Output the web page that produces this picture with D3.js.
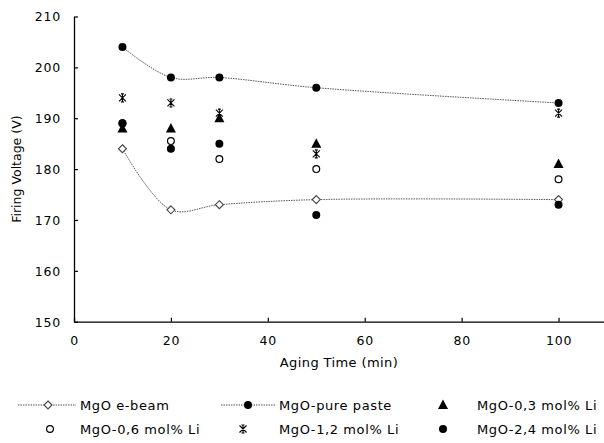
<!DOCTYPE html>
<html>
<head>
<meta charset="utf-8">
<script src="https://cdn.jsdelivr.net/npm/d3@7"></script>
<style>
  body { margin: 0; background: #fff; }
  text { font-family: "DejaVu Sans", sans-serif; fill: #000; }
</style>
</head>
<body>
<svg id="chart" width="604" height="443"></svg>
<script>
// aging time (min)
let agingTimes = [10, 20, 30, 50, 100];

// firing voltage (V) per sample
let eBeam     = [184, 172, 173, 174, 174];
let purePaste = [204, 198, 198, 196, 193];
let li03      = [188, 188, 190, 185, 181];
let li06      = [189, 185.5, 182, 180, 178];
let li12      = [194, 193, 191, 183, 191];
let li24      = [189, 184, 185, 171, 173];

let xTicks = [0, 20, 40, 60, 80, 100];
let yTicks = [150, 160, 170, 180, 190, 200, 210];

let seriesNames = ["MgO e-beam", "MgO-pure paste", "MgO-0,3 mol% Li",
                   "MgO-0,6 mol% Li", "MgO-1,2 mol% Li", "MgO-2,4 mol% Li"];

let series = [
    {name: seriesNames[0], values: eBeam, marker: "diamond", line: true},
    {name: seriesNames[1], values: purePaste, marker: "dot", line: true},
    {name: seriesNames[2], values: li03, marker: "triangle", line: false},
    {name: seriesNames[3], values: li06, marker: "circle", line: false},
    {name: seriesNames[4], values: li12, marker: "star", line: false},
    {name: seriesNames[5], values: li24, marker: "dot", line: false}
];

let svg = d3.select("#chart");
let margin = {top: 16.5, left: 74, bottom: 321.7};

let xScale = d3.scaleLinear().domain([0, 110]).range([margin.left, 607]);
let yScale = d3.scaleLinear().domain([150, 210]).range([margin.bottom, margin.top]);

// axes with inward ticks
let xAxis = svg.append("g")
    .attr("transform", "translate(0," + margin.bottom + ")")
    .call(d3.axisBottom(xScale).tickValues(xTicks).tickSize(-4).tickPadding(12).tickSizeOuter(0));
let yAxis = svg.append("g")
    .attr("transform", "translate(" + margin.left + ",0)")
    .call(d3.axisLeft(yScale).tickValues(yTicks).tickSize(-4).tickPadding(12).tickSizeOuter(0));

[xAxis, yAxis].forEach(function(a) {
    a.select(".domain").attr("stroke", "#000").attr("stroke-width", 1.3);
    a.selectAll(".tick line").attr("stroke", "#000").attr("stroke-width", 1.2);
    a.selectAll(".tick text")
        .style("font-family", "DejaVu Sans, sans-serif")
        .style("font-size", "12.5px")
        .style("letter-spacing", "0.8px")
        .attr("fill", "#000");
});
xAxis.selectAll(".tick text").attr("dy", "0.9em");
yAxis.selectAll(".tick text").attr("x", -13).attr("dy", "0.35em");

svg.append("text")
    .attr("x", (margin.left + 604) / 2)
    .attr("y", 367)
    .attr("text-anchor", "middle")
    .style("font-size", "13px")
    .style("letter-spacing", "0.4px")
    .text("Aging Time (min)");

svg.append("text")
    .attr("transform", "translate(21," + (margin.top + margin.bottom) / 2 + ") rotate(-90)")
    .attr("text-anchor", "middle")
    .style("font-size", "12.5px")
    .text("Firing Voltage (V)");

function drawMarker(g, type, x, y) {
    if (type == "dot") {
        g.append("circle").attr("cx", x).attr("cy", y).attr("r", 4).attr("fill", "#000");
    } else if (type == "circle") {
        g.append("circle").attr("cx", x).attr("cy", y).attr("r", 3.4)
            .attr("fill", "#fff").attr("stroke", "#000").attr("stroke-width", 1.2);
    } else if (type == "diamond") {
        g.append("path")
            .attr("d", "M" + x + "," + (y - 4) + "L" + (x + 4) + "," + y +
                "L" + x + "," + (y + 4) + "L" + (x - 4) + "," + y + "Z")
            .attr("fill", "#fff").attr("stroke", "#444").attr("stroke-width", 1.1);
    } else if (type == "triangle") {
        g.append("path")
            .attr("d", "M" + x + "," + (y - 5.5) + "L" + (x + 5) + "," + (y + 4) +
                "L" + (x - 5) + "," + (y + 4) + "Z")
            .attr("fill", "#000");
    } else if (type == "star") {
        g.append("path")
            .attr("d", "M" + (x - 3.5) + "," + (y - 3.5) + "L" + (x + 3.5) + "," + (y + 3.5) +
                "M" + (x + 3.5) + "," + (y - 3.5) + "L" + (x - 3.5) + "," + (y + 3.5) +
                "M" + x + "," + (y - 4.5) + "L" + x + "," + (y + 4.5) +
                "M" + (x - 1.5) + "," + (y - 4) + "L" + (x + 1.5) + "," + (y - 4) +
                "M" + (x - 1.5) + "," + (y + 4) + "L" + (x + 1.5) + "," + (y + 4))
            .attr("fill", "none").attr("stroke", "#000").attr("stroke-width", 1.1);
    }
}

let line = d3.line()
    .x(function(d) { return xScale(d[0]); })
    .y(function(d) { return yScale(d[1]); })
    .curve(d3.curveCatmullRom.alpha(0.5));

let plot = svg.append("g");
series.forEach(function(s) {
    if (s.line) {
        plot.append("path")
            .datum(agingTimes.map(function(t, i) { return [t, s.values[i]]; }))
            .attr("d", line)
            .attr("fill", "none")
            .attr("stroke", "#555")
            .attr("stroke-width", 1)
            .attr("stroke-dasharray", "1.5,1");
    }
});
series.forEach(function(s) {
    agingTimes.forEach(function(t, i) {
        drawMarker(plot, s.marker, xScale(t), yScale(s.values[i]));
    });
});

// legend, two rows of three
let legendCols = [
    {lineFrom: 18, lineTo: 76, marker: 48, text: 80},
    {lineFrom: 221, lineTo: 276, marker: 248, text: 279},
    {lineFrom: 0, lineTo: 0, marker: 443, text: 477}
];
let legendRows = [405, 429];
let legend = svg.append("g");
series.forEach(function(s, i) {
    let col = legendCols[i % 3];
    let y = legendRows[Math.floor(i / 3)];
    let mx = col.marker;
    if (s.line) {
        legend.append("line")
            .attr("x1", col.lineFrom).attr("x2", col.lineTo)
            .attr("y1", y).attr("y2", y)
            .attr("stroke", "#555").attr("stroke-width", 1).attr("stroke-dasharray", "1.5,1");
    } else {
        mx = i == 3 ? 50 : (i == 4 ? 243 : mx);
    }
    drawMarker(legend, s.marker, mx, y);
    legend.append("text")
        .attr("x", col.text)
        .attr("y", y)
        .attr("dy", "0.36em")
        .style("font-size", "13px")
        .style("letter-spacing", "0.6px")
        .text(s.name);
});
</script>
</body>
</html>
